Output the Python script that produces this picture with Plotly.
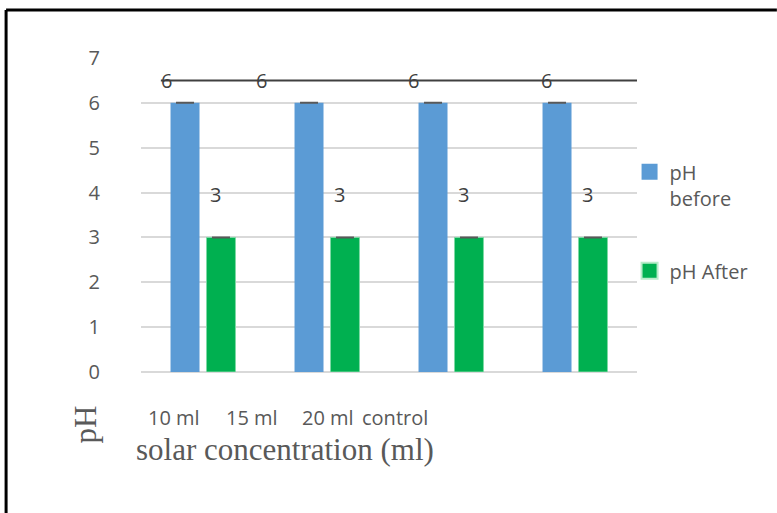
import plotly.graph_objects as go

categories = ["10 ml", "15 ml", "20 ml", "control"]
ph_before = [6, 6, 6, 6]
ph_after = [3, 3, 3, 3]
line_level = 6.5
line_labels = ["6", "6", "6", "6"]
after_labels = ["3", "3", "3", "3"]
y_ticks = [0, 1, 2, 3, 4, 5, 6]

x_idx = list(range(len(categories)))
TICK_FONT = dict(family="Open Sans", size=20, color="#595959")
LABEL_FONT = dict(family="Open Sans", size=20, color="#404040")
SERIF = dict(family="Liberation Serif", size=31, color="#595959")
BLUE = "#5b9bd5"
GREEN = "#00b050"

fig = go.Figure()
fig.add_trace(go.Bar(
    x=x_idx, y=ph_before, name="pH<br>before",
    marker=dict(color=BLUE, line=dict(width=0)),
    error_y=dict(type="data", array=[0] * 4, color="#595959", thickness=2, width=9),
    showlegend=False,
))
fig.add_trace(go.Bar(
    x=x_idx, y=ph_after, name="pH After",
    marker=dict(color=GREEN, line=dict(color="#7fd9a5", width=1)),
    error_y=dict(type="data", array=[0] * 4, color="#595959", thickness=2, width=9),
    showlegend=False,
))
# legend entries with larger square swatches
fig.add_trace(go.Scatter(x=[None], y=[None], mode="markers", name="pH<br>before",
                         marker=dict(symbol="square", size=20, color=BLUE),
                         legendgroup="a"))
fig.add_trace(go.Scatter(x=[None], y=[None], mode="markers", name="pH After",
                         marker=dict(symbol="square", size=20, color=GREEN,
                                     line=dict(color="#b8ecc9", width=2)),
                         legendgroup="b"))
# black horizontal line series
fig.add_trace(go.Scatter(
    x=[-0.34, 3.5], y=[line_level, line_level], mode="lines",
    line=dict(color="#404040", width=2), showlegend=False, hoverinfo="skip",
))
# labels on the line
line_offsets = [-0.298, 0.468 - 1, 1.694 - 2, 2.774 - 3]
for i, t in enumerate(line_labels):
    fig.add_annotation(x=x_idx[i] + line_offsets[i], y=line_level, text=t,
                       showarrow=False, font=LABEL_FONT, xref="x", yref="y",
                       xanchor="center", yanchor="middle")
# labels for pH After
for i, t in enumerate(after_labels):
    fig.add_annotation(x=x_idx[i] + 0.1, y=ph_after[i] + 0.95, text=t,
                       showarrow=False, font=LABEL_FONT, xref="x", yref="y",
                       xanchor="center", yanchor="middle")
# category labels (squeezed on left as in original)
cat_x = [-0.23, 0.395, 1.008, 1.548]
for cx, c in zip(cat_x, categories):
    fig.add_annotation(x=cx, y=-0.146, text=c, showarrow=False, font=TICK_FONT,
                       xref="x", yref="paper", xanchor="center", yanchor="middle")
# axis titles
fig.add_annotation(x=0.291, y=-0.248, xref="paper", yref="paper",
                   text="solar concentration (ml)", showarrow=False, font=SERIF,
                   xanchor="center", yanchor="middle")
fig.add_annotation(x=-0.112, y=-0.166, xref="paper", yref="paper",
                   text="pH", showarrow=False, font=SERIF, textangle=-90,
                   xanchor="center", yanchor="middle")
# outer border (left/top visible)
fig.add_shape(type="line", xref="paper", yref="paper",
              x0=-0.272, x1=-0.272, y0=-0.449, y1=1.153,
              line=dict(color="black", width=3), layer="above")
fig.add_shape(type="line", xref="paper", yref="paper",
              x0=-0.272, x1=1.282, y0=1.153, y1=1.153,
              line=dict(color="black", width=3), layer="above")

fig.update_layout(
    width=777, height=513,
    margin=dict(l=141, r=140, t=58, b=141),
    paper_bgcolor="white", plot_bgcolor="white",
    barmode="group", bargap=0.42, bargroupgap=0.194,
    showlegend=True,
    legend=dict(x=0.985, y=0.7, xanchor="left", yanchor="top",
                font=dict(family="Open Sans", size=20, color="#595959"),
                tracegroupgap=44, valign="top", bgcolor="rgba(0,0,0,0)",
                itemsizing="trace"),
    xaxis=dict(range=[-0.5, 3.5], showticklabels=False, showgrid=False,
               zeroline=False, showline=False, ticks=""),
    yaxis=dict(range=[0, 7], tickvals=y_ticks, showgrid=True, gridcolor="#d9d9d9",
               gridwidth=1.5, zeroline=True, zerolinecolor="#d9d9d9", zerolinewidth=2,
               tickfont=TICK_FONT, ticks="", ticklabelstandoff=40),
    yaxis2=dict(range=[0, 7], tickvals=[7], overlaying="y", side="left",
                showgrid=False, zeroline=False, tickfont=TICK_FONT, ticks="",
                ticklabelstandoff=40),
)
fig.add_trace(go.Scatter(x=[None], y=[None], yaxis="y2", showlegend=False))

fig.write_html("out.html")
